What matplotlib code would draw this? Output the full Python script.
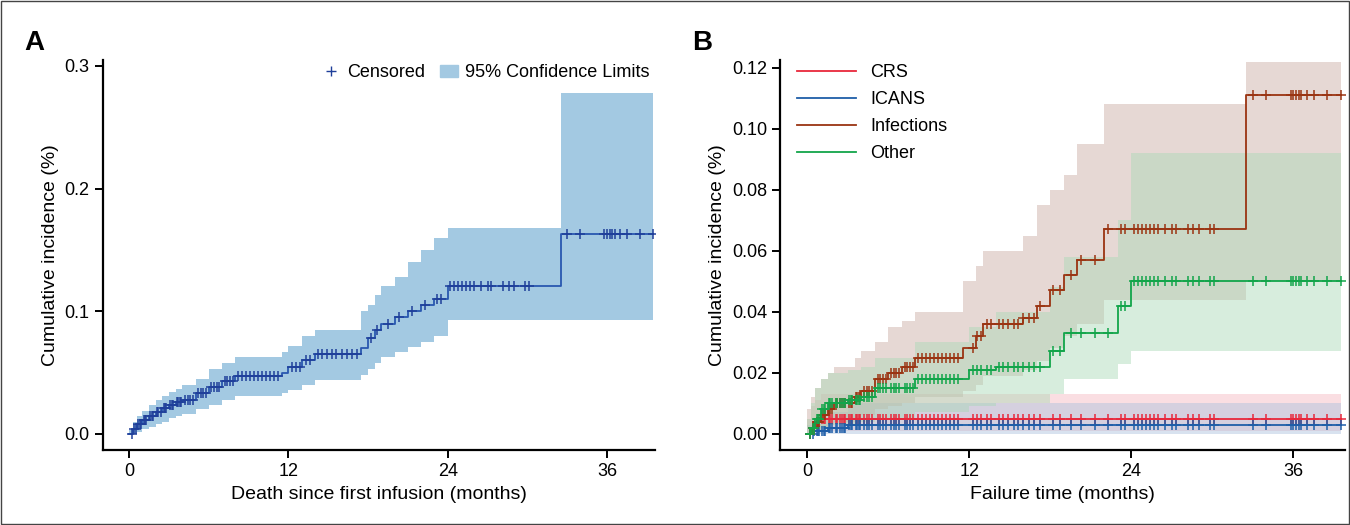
import numpy as np
import matplotlib
matplotlib.use("Agg")
import matplotlib.pyplot as plt
from matplotlib.lines import Line2D
from matplotlib.patches import Patch

plt.rcParams['font.family'] = ['Liberation Sans Narrow', 'Liberation Sans', 'DejaVu Sans']

# ---------- Panel A data ----------
A_t  = [0, 0.3, 0.6, 1, 1.5, 2, 2.5, 3, 3.5, 4, 5, 6, 7, 8, 11.5, 12, 13, 14, 17.5, 18, 18.5, 19, 20, 21, 22, 23, 24, 32.5, 39.5]
A_y  = [0, 0.004, 0.008, 0.011, 0.015, 0.018, 0.021, 0.024, 0.026, 0.028, 0.033, 0.038, 0.043, 0.047, 0.050, 0.055, 0.060, 0.065, 0.070, 0.078, 0.085, 0.090, 0.095, 0.100, 0.105, 0.110, 0.121, 0.163, 0.163]
A_lo = [0, 0.001, 0.002, 0.004, 0.006, 0.008, 0.010, 0.013, 0.015, 0.016, 0.020, 0.024, 0.028, 0.031, 0.033, 0.036, 0.040, 0.044, 0.048, 0.053, 0.058, 0.063, 0.067, 0.071, 0.075, 0.080, 0.093, 0.093, 0.093]
A_hi = [0.003, 0.010, 0.015, 0.019, 0.024, 0.028, 0.031, 0.034, 0.037, 0.040, 0.045, 0.053, 0.058, 0.063, 0.067, 0.072, 0.080, 0.085, 0.100, 0.105, 0.113, 0.121, 0.128, 0.140, 0.150, 0.160, 0.168, 0.278, 0.278]
A_cens = [0.2,0.4,0.5,0.7,0.8,0.9,1.1,1.2,1.3,1.6,1.7,1.8,2.1,2.2,2.4,2.6,2.7,2.8,3.1,3.2,3.3,3.6,3.7,3.8,3.9,4.2,4.4,4.6,4.8,5.2,5.4,5.6,5.8,6.2,6.4,6.6,6.8,7.2,7.4,7.6,7.8,8.2,8.5,8.8,9.1,9.4,9.7,10,10.3,10.6,10.9,11.2,12.3,12.6,12.9,13.3,13.6,14.2,14.5,14.9,15.3,15.6,16,16.4,16.8,17.2,18.2,18.7,19.5,20.3,21.3,22.3,23.2,23.5,24.2,24.5,24.8,25.1,25.4,25.7,26,26.5,27,27.3,28.2,28.6,29,29.8,30.1,33,34,35.8,36,36.2,36.4,36.6,37,37.5,38.5,39.5]

# ---------- Panel B data ----------
I_t  = [0, 0.3, 0.6, 1, 1.5, 2, 3.5, 4, 5, 6, 7, 8, 11.5, 12.5, 13, 16, 17, 18, 19, 20, 22, 32.5, 39.5]
I_y  = [0, 0.002, 0.004, 0.006, 0.008, 0.010, 0.012, 0.014, 0.018, 0.020, 0.022, 0.025, 0.028, 0.032, 0.036, 0.038, 0.042, 0.047, 0.052, 0.057, 0.067, 0.111, 0.111]
I_lo = [0, 0, 0.001, 0.002, 0.003, 0.004, 0.005, 0.006, 0.008, 0.009, 0.010, 0.012, 0.014, 0.016, 0.019, 0.021, 0.024, 0.028, 0.032, 0.036, 0.044, 0.050, 0.050]
I_hi = [0.008, 0.012, 0.015, 0.018, 0.020, 0.022, 0.025, 0.027, 0.030, 0.035, 0.037, 0.040, 0.050, 0.055, 0.060, 0.065, 0.075, 0.080, 0.085, 0.095, 0.108, 0.122, 0.122]
O_t  = [0, 0.3, 0.6, 1, 1.5, 3, 4, 5, 8, 12, 14, 18, 19, 23, 24, 39.5]
O_y  = [0, 0.002, 0.005, 0.008, 0.010, 0.011, 0.012, 0.015, 0.018, 0.021, 0.022, 0.027, 0.033, 0.042, 0.050, 0.050]
O_lo = [0, 0, 0.001, 0.002, 0.003, 0.003, 0.004, 0.005, 0.007, 0.009, 0.010, 0.013, 0.018, 0.023, 0.027, 0.027]
O_hi = [0.005, 0.010, 0.015, 0.018, 0.020, 0.021, 0.022, 0.025, 0.030, 0.035, 0.040, 0.048, 0.058, 0.070, 0.092, 0.092]
C_t  = [0, 0.3, 0.6, 1, 39.5]
C_y  = [0, 0.002, 0.004, 0.005, 0.005]
C_lo = [0, 0, 0.001, 0.001, 0.001]
C_hi = [0.005, 0.009, 0.011, 0.013, 0.013]
N_t  = [0, 0.5, 1.5, 3, 39.5]
N_y  = [0, 0.001, 0.002, 0.003, 0.003]
N_lo = [0, 0, 0, 0, 0]
N_hi = [0.003, 0.005, 0.007, 0.010, 0.010]
B_cens = A_cens

def step_val(t, xs, ys):
    i = np.searchsorted(xs, t, side='right') - 1
    return np.asarray(ys)[np.clip(i, 0, len(ys) - 1)]

fig = plt.figure(figsize=(13.5, 5.25), dpi=100)
fig.patches.append(plt.Rectangle((0.001, 0.001), 0.998, 0.998, transform=fig.transFigure,
                                 fill=False, edgecolor='#444444', lw=1))

def style(ax):
    for s in ['top', 'right']:
        ax.spines[s].set_visible(False)
    for s in ['left', 'bottom']:
        ax.spines[s].set_linewidth(1.6)
    ax.tick_params(direction='out', width=1.4, length=6, labelsize=13)
    ax.set_xticks([0, 12, 24, 36])

# Panel A
axA = fig.add_axes([0.076, 0.143, 0.409, 0.743])
style(axA)
axA.fill_between(A_t, A_lo, A_hi, step='post', color='#a3c9e2', lw=0)
axA.step(A_t, A_y, where='post', color='#2957b0', lw=1.3)
cy = step_val(np.array(A_cens), A_t, A_y)
axA.plot(A_cens, cy, ls='none', marker='+', color='#1f3f9a', ms=7, mew=1.1)
axA.set_xlim(-2.0, 39.6)
axA.set_ylim(-0.013, 0.305)
axA.set_yticks([0, 0.1, 0.2, 0.3])
axA.set_yticklabels(['0.0', '0.1', '0.2', '0.3'])
axA.set_xlabel('Death since first infusion (months)', fontsize=14)
axA.set_ylabel('Cumulative incidence (%)', fontsize=14)
axA.legend(handles=[Line2D([], [], ls='none', marker='+', color='#1f3f9a', ms=7),
                    Patch(color='#a3c9e2')],
           labels=['Censored', '95% Confidence Limits'], ncol=2, frameon=False,
           loc='upper right', bbox_to_anchor=(1.02, 1.03), fontsize=13,
           handlelength=1.0, columnspacing=0.8, handletextpad=0.4)
fig.text(0.018, 0.905, 'A', fontsize=20, fontweight='bold', family='Liberation Sans')

# Panel B
axB = fig.add_axes([0.578, 0.143, 0.418, 0.743])
style(axB)
series = [('CRS', C_t, C_y, C_lo, C_hi, '#e8283c', '#f4b6bf'),
          ('ICANS', N_t, N_y, N_lo, N_hi, '#1f5ea8', '#a9bfdc'),
          ('Infections', I_t, I_y, I_lo, I_hi, '#9a3412', '#c9a9a0'),
          ('Other', O_t, O_y, O_lo, O_hi, '#12a54a', '#a8d8b5')]
for name, t, y, lo, hi, c, fc in series:
    axB.fill_between(t, lo, hi, step='post', color=fc, alpha=0.45, lw=0)
for name, t, y, lo, hi, c, fc in series:
    axB.step(t, y, where='post', color=c, lw=1.3, label=name)
    cyb = step_val(np.array(B_cens), t, y)
    axB.plot(B_cens, cyb, ls='none', marker='+', color=c, ms=7, mew=1.1)
axB.set_xlim(-2.0, 39.8)
axB.set_ylim(-0.0053, 0.1226)
axB.set_yticks([0, 0.02, 0.04, 0.06, 0.08, 0.10, 0.12])
axB.set_yticklabels(['0.00', '0.02', '0.04', '0.06', '0.08', '0.10', '0.12'])
axB.set_xlabel('Failure time (months)', fontsize=14)
axB.set_ylabel('Cumulative incidence (%)', fontsize=14)
axB.legend(loc='upper left', bbox_to_anchor=(0.0, 1.03), frameon=False, fontsize=13,
           handlelength=3.3, labelspacing=0.55)
fig.text(0.513, 0.905, 'B', fontsize=20, fontweight='bold', family='Liberation Sans')

fig.savefig('out.png', dpi=100)
